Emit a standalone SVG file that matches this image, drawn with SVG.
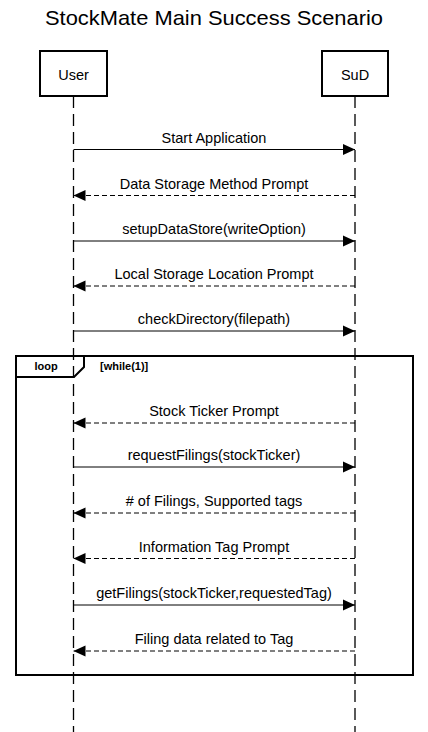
<svg xmlns="http://www.w3.org/2000/svg" width="428" height="732" viewBox="0 0 428 732">
<defs>
<marker id="arr" viewBox="0 0 12 12" refX="12" refY="6" markerWidth="12" markerHeight="12" orient="auto" markerUnits="userSpaceOnUse">
<path d="M0,0.5 L12,6 L0,11.5 z" fill="#000"/>
</marker>
<style>
text{font-family:"Liberation Sans",Arial,sans-serif;fill:#000}
.msg{font-size:14.5px;text-anchor:middle}
.box{fill:#fff;stroke:#000;stroke-width:2}
.life{stroke:#000;stroke-width:1.3;stroke-dasharray:12 6;fill:none}
.call{stroke:#000;stroke-width:1;fill:none;marker-end:url(#arr)}
.ret{stroke:#000;stroke-width:1;fill:none;stroke-dasharray:5 3;marker-end:url(#arr)}
.frame{fill:none;stroke:#000;stroke-width:2}
.lbl{font-size:11px;font-weight:bold}
</style>
</defs>
<rect width="428" height="732" fill="#fff"/>
<text x="214" y="25" font-size="21" text-anchor="middle" textLength="338" lengthAdjust="spacingAndGlyphs">StockMate Main Success Scenario</text>

<g id="user">
<line class="life" x1="73.5" y1="96" x2="73.5" y2="732"/>
<rect class="box" x="40" y="51" width="67" height="45"/>
<text class="msg" x="73.5" y="80">User</text>
</g>
<g id="sud">
<line class="life" x1="355" y1="96" x2="355" y2="732"/>
<rect class="box" x="322" y="51" width="66" height="45"/>
<text class="msg" x="355" y="80">SuD</text>
</g>

<g id="loop">
<rect class="frame" x="16" y="356" width="397" height="319"/>
<path class="frame" d="M16,377 L74,377 L84,367 L84,356" fill="#fff"/>
<text class="lbl" x="46" y="370" text-anchor="middle">loop</text>
<text class="lbl" x="100" y="370">[while(1)]</text>
</g>

<g id="connectors">
<line class="call" x1="73.5" y1="149.5" x2="355" y2="149.5"/>
<text class="msg" x="214" y="142.5">Start Application</text>
<line class="ret" x1="355" y1="195.5" x2="73.5" y2="195.5"/>
<text class="msg" x="214" y="188.5">Data Storage Method Prompt</text>
<line class="call" x1="73.5" y1="241" x2="355" y2="241"/>
<text class="msg" x="214" y="234">setupDataStore(writeOption)</text>
<line class="ret" x1="355" y1="286" x2="73.5" y2="286"/>
<text class="msg" x="214" y="279">Local Storage Location Prompt</text>
<line class="call" x1="73.5" y1="331" x2="355" y2="331"/>
<text class="msg" x="214" y="324">checkDirectory(filepath)</text>
<line class="ret" x1="355" y1="423" x2="73.5" y2="423"/>
<text class="msg" x="214" y="416">Stock Ticker Prompt</text>
<line class="call" x1="73.5" y1="467" x2="355" y2="467"/>
<text class="msg" x="214" y="460">requestFilings(stockTicker)</text>
<line class="ret" x1="355" y1="513" x2="73.5" y2="513"/>
<text class="msg" x="214" y="506"># of Filings, Supported tags</text>
<line class="ret" x1="355" y1="558.5" x2="73.5" y2="558.5"/>
<text class="msg" x="214" y="551.5">Information Tag Prompt</text>
<line class="call" x1="73.5" y1="605" x2="355" y2="605"/>
<text class="msg" x="214" y="598">getFilings(stockTicker,requestedTag)</text>
<line class="ret" x1="355" y1="651" x2="73.5" y2="651"/>
<text class="msg" x="214" y="644">Filing data related to Tag</text>
</g>
</svg>
